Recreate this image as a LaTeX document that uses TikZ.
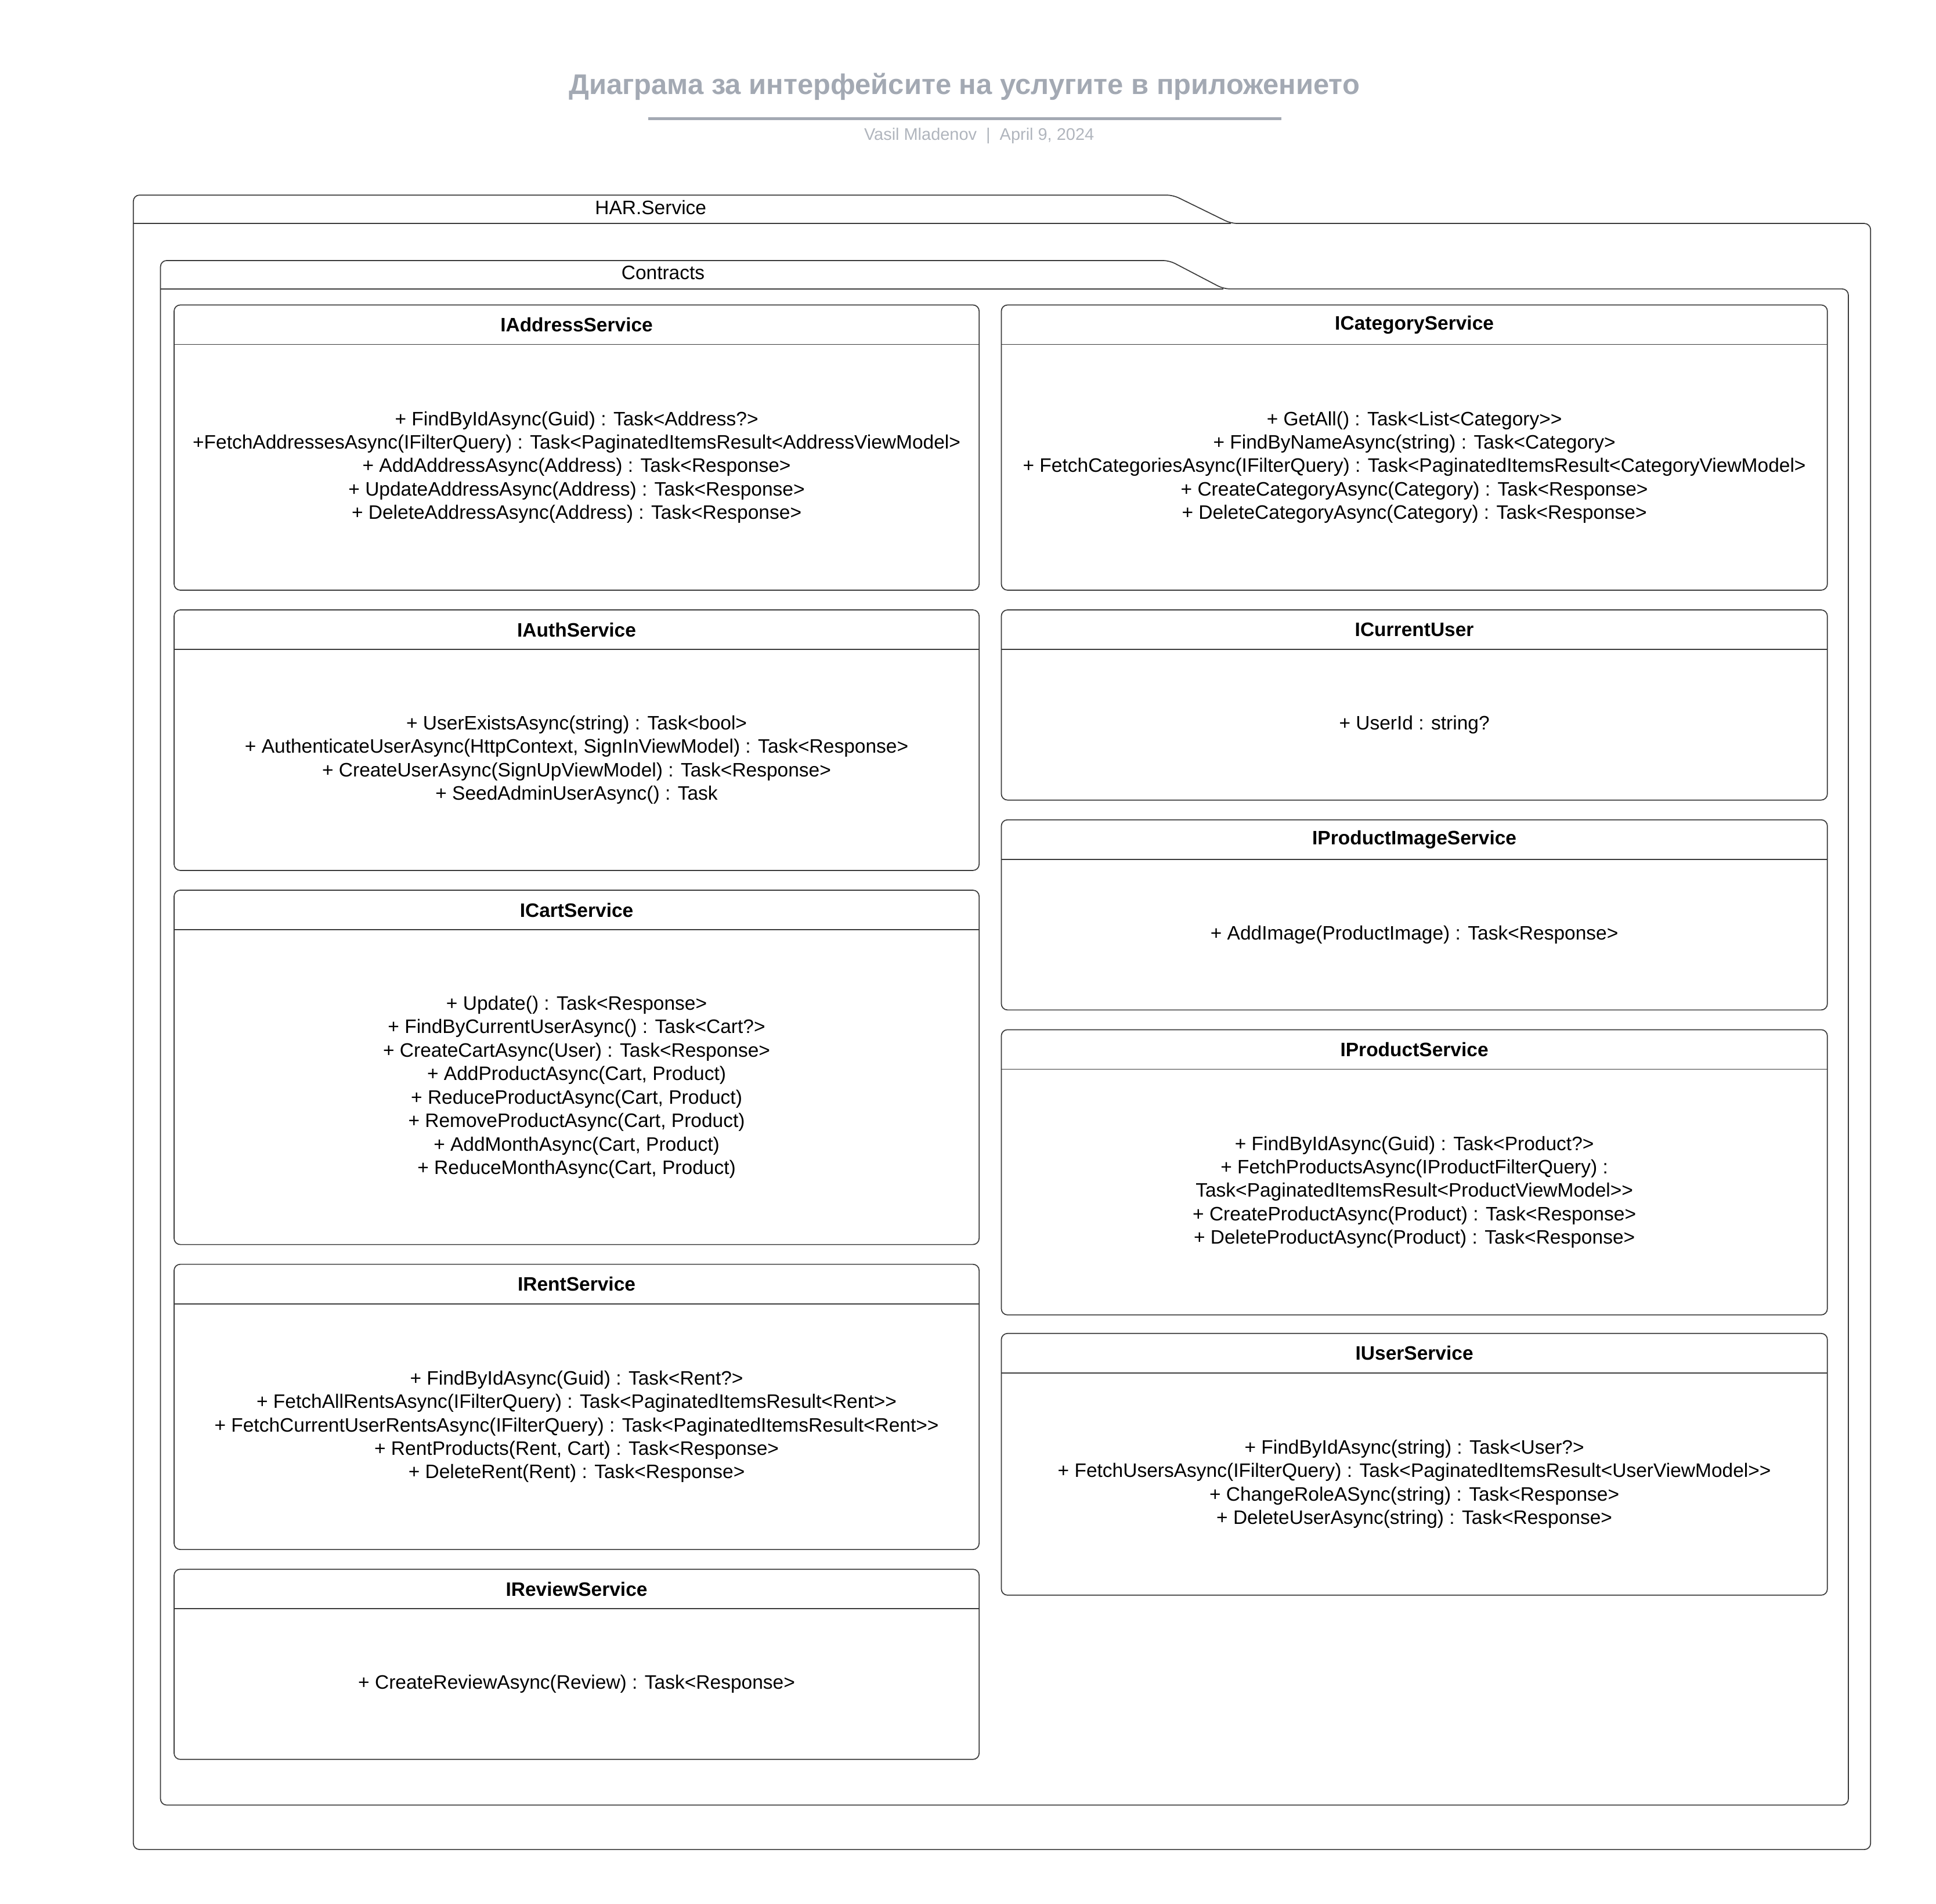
\documentclass[tikz,border=0pt]{standalone}
\usepackage{fontspec}
\setmainfont{Liberation Sans}
\usetikzlibrary{positioning}
\definecolor{titlegray}{HTML}{A3A9B3}
\definecolor{subgray}{HTML}{B0B5BD}
\definecolor{linegray}{HTML}{3A3A3A}

\begin{document}
\begin{tikzpicture}[x=1pt, y=-1pt,
    hdr/.style={anchor=north west, minimum height=32pt, inner sep=0pt, outer sep=0pt,
      font=\bfseries\fontsize{15.75}{19}\selectfont},
    body/.style={inner sep=0pt, outer sep=0pt, align=center,
      font=\fontsize{15.75}{19}\selectfont},
    lcol/.style={minimum width=652pt},
    rcol/.style={minimum width=669pt},
    frame/.style={draw=linegray, line width=0.8pt, rounded corners=5pt},
    pkglbl/.style={font=\fontsize{15.75}{19}\selectfont, inner sep=0pt}]
    \useasboundingbox (0,0) rectangle (1568,1542);
    % title block
    \node[font=\bfseries\fontsize{23}{27}\selectfont, text=titlegray] (title) at (781,70) {Диаграма за интерфейсите на услугите в приложението};
    \draw[titlegray, line width=2.5pt] (525,96) -- (1038,96);
    \node[font=\fontsize{13.6}{16}\selectfont, text=subgray] (byline) at (793,110) {Vasil Mladenov \ | \ April 9, 2024};
    % packages
    \draw[frame] (108,181) -- (108,158) -- (950,158) -- (997,181) -- (1515,181) -- (1515,1498) -- (108,1498) -- cycle;
    \draw[linegray, line width=0.8pt] (108,181) -- (997,181);
    \node[pkglbl] (harLbl) at (527,168) {HAR.Service};
    \draw[frame] (130,234) -- (130,211) -- (947,211) -- (991,234) -- (1497,234) -- (1497,1462) -- (130,1462) -- cycle;
    \draw[linegray, line width=0.8pt] (130,234) -- (991,234);
    \node[pkglbl] (contractsLbl) at (537,221) {Contracts};
    % left column
    \node[hdr,lcol] (addrH) at (141,247) {IAddressService};
    \node[body,lcol,minimum height=199pt,below=0pt of addrH] (addrB) {+ FindByIdAsync(Guid) : Task<Address?>\\+FetchAddressesAsync(IFilterQuery) : Task<PaginatedItemsResult<AddressViewModel>\\+ AddAddressAsync(Address) : Task<Response>\\+ UpdateAddressAsync(Address) : Task<Response>\\+ DeleteAddressAsync(Address) : Task<Response>};
    \draw[frame] (addrH.north west) rectangle (addrB.south east);
    \draw[linegray, line width=0.8pt] (addrH.south west) -- (addrH.south east);

    \node[hdr,lcol] (authH) at (141,494) {IAuthService};
    \node[body,lcol,minimum height=179pt,below=0pt of authH] (authB) {+ UserExistsAsync(string) : Task<bool>\\+ AuthenticateUserAsync(HttpContext, SignInViewModel) : Task<Response>\\+ CreateUserAsync(SignUpViewModel) : Task<Response>\\+ SeedAdminUserAsync() : Task};
    \draw[frame] (authH.north west) rectangle (authB.south east);
    \draw[linegray, line width=0.8pt] (authH.south west) -- (authH.south east);

    \node[hdr,lcol] (cartH) at (141,721) {ICartService};
    \node[body,lcol,minimum height=255pt,below=0pt of cartH] (cartB) {+ Update() : Task<Response>\\+ FindByCurrentUserAsync() : Task<Cart?>\\+ CreateCartAsync(User) : Task<Response>\\+ AddProductAsync(Cart, Product)\\+ ReduceProductAsync(Cart, Product)\\+ RemoveProductAsync(Cart, Product)\\+ AddMonthAsync(Cart, Product)\\+ ReduceMonthAsync(Cart, Product)};
    \draw[frame] (cartH.north west) rectangle (cartB.south east);
    \draw[linegray, line width=0.8pt] (cartH.south west) -- (cartH.south east);

    \node[hdr,lcol] (rentH) at (141,1024) {IRentService};
    \node[body,lcol,minimum height=199pt,below=0pt of rentH] (rentB) {+ FindByIdAsync(Guid) : Task<Rent?>\\+ FetchAllRentsAsync(IFilterQuery) : Task<PaginatedItemsResult<Rent>{}>\\+ FetchCurrentUserRentsAsync(IFilterQuery) : Task<PaginatedItemsResult<Rent>{}>\\+ RentProducts(Rent, Cart) : Task<Response>\\+ DeleteRent(Rent) : Task<Response>};
    \draw[frame] (rentH.north west) rectangle (rentB.south east);
    \draw[linegray, line width=0.8pt] (rentH.south west) -- (rentH.south east);

    \node[hdr,lcol] (reviewH) at (141,1271) {IReviewService};
    \node[body,lcol,minimum height=122pt,below=0pt of reviewH] (reviewB) {+ CreateReviewAsync(Review) : Task<Response>};
    \draw[frame] (reviewH.north west) rectangle (reviewB.south east);
    \draw[linegray, line width=0.8pt] (reviewH.south west) -- (reviewH.south east);
    % right column
    \node[hdr,rcol] (catH) at (811,247) {ICategoryService};
    \node[body,rcol,minimum height=199pt,below=0pt of catH] (catB) {+ GetAll() : Task<List<Category>{}>\\+ FindByNameAsync(string) : Task<Category>\\+ FetchCategoriesAsync(IFilterQuery) : Task<PaginatedItemsResult<CategoryViewModel>\\+ CreateCategoryAsync(Category) : Task<Response>\\+ DeleteCategoryAsync(Category) : Task<Response>};
    \draw[frame] (catH.north west) rectangle (catB.south east);
    \draw[linegray, line width=0.8pt] (catH.south west) -- (catH.south east);

    \node[hdr,rcol] (curH) at (811,494) {ICurrentUser};
    \node[body,rcol,minimum height=122pt,below=0pt of curH] (curB) {+ UserId : string?};
    \draw[frame] (curH.north west) rectangle (curB.south east);
    \draw[linegray, line width=0.8pt] (curH.south west) -- (curH.south east);

    \node[hdr,rcol] (imgH) at (811,664) {IProductImageService};
    \node[body,rcol,minimum height=122pt,below=0pt of imgH] (imgB) {+ AddImage(ProductImage) : Task<Response>};
    \draw[frame] (imgH.north west) rectangle (imgB.south east);
    \draw[linegray, line width=0.8pt] (imgH.south west) -- (imgH.south east);

    \node[hdr,rcol] (prodH) at (811,834) {IProductService};
    \node[body,rcol,minimum height=199pt,below=0pt of prodH] (prodB) {+ FindByIdAsync(Guid) : Task<Product?>\\+ FetchProductsAsync(IProductFilterQuery) :\\Task<PaginatedItemsResult<ProductViewModel>{}>\\+ CreateProductAsync(Product) : Task<Response>\\+ DeleteProductAsync(Product) : Task<Response>};
    \draw[frame] (prodH.north west) rectangle (prodB.south east);
    \draw[linegray, line width=0.8pt] (prodH.south west) -- (prodH.south east);

    \node[hdr,rcol] (userH) at (811,1080) {IUserService};
    \node[body,rcol,minimum height=180pt,below=0pt of userH] (userB) {+ FindByIdAsync(string) : Task<User?>\\+ FetchUsersAsync(IFilterQuery) : Task<PaginatedItemsResult<UserViewModel>{}>\\+ ChangeRoleASync(string) : Task<Response>\\+ DeleteUserAsync(string) : Task<Response>};
    \draw[frame] (userH.north west) rectangle (userB.south east);
    \draw[linegray, line width=0.8pt] (userH.south west) -- (userH.south east);
\end{tikzpicture}
\end{document}
